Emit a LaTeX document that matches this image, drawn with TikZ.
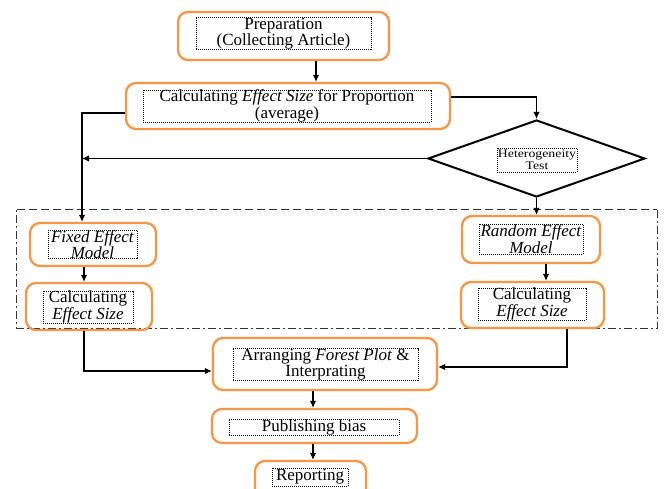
\documentclass[tikz,border=0pt]{standalone}
\usepackage{fontspec}
\setmainfont{Liberation Serif}
\usepackage{graphicx}
\usetikzlibrary{arrows.meta,shapes.geometric}
\definecolor{boxorange}{RGB}{247,150,70}
\tikzset{
  outerbox/.style={draw=boxorange, line width=2.3pt, rounded corners=10pt, inner sep=0pt},
  innerbox/.style={draw=black, line width=0.7pt, dash pattern=on 1pt off 1pt, inner sep=0pt, align=center,
     font=\fontsize{17}{14}\selectfont},
  arr/.style={draw=black, line width=1.2pt, -{Latex[length=7pt,width=6.5pt]}},
  plain/.style={draw=black, line width=1.2pt},
  frame/.style={draw=black!80, line width=1.1pt}
}
\begin{document}
\begin{tikzpicture}[x=1pt,y=-1pt]
\useasboundingbox (0,0) rectangle (665,489);
\clip (0,0) rectangle (665,489);
\fill[white] (0,0) rectangle (665,489);

% group frame
\node[minimum width=640, minimum height=118, inner sep=0pt] (grp) at (337,269) {};
\draw[frame, dash pattern=on 8pt off 4pt] (grp.north west) -- (grp.north east);
\draw[frame, dash pattern=on 8pt off 3pt on 2pt off 3pt] (grp.north east) -- (grp.south east) -- (grp.south west) -- (grp.north west);

% boxes
\node[outerbox, minimum width=211, minimum height=48] (prep) at (283.5,36) {};
\node[innerbox, minimum width=175, minimum height=27] (prepin) at (283.5,33.5) {Preparation\\(Collecting Article)};

\node[outerbox, minimum width=324, minimum height=46] (calc) at (288,106) {};
\node[innerbox, minimum width=288, minimum height=28] (calcin) at (287,106) {Calculating \textit{Effect Size} for Proportion\\(average)};

\node[draw=black, line width=2pt, shape=diamond, inner sep=0pt, minimum width=217, minimum height=77] (het) at (536.5,158.5) {};
\node[innerbox, minimum width=80, minimum height=24, font=\fontsize{11.5}{11.5}\selectfont] (hetin) at (537,160)
  {\scalebox{1.2}[1]{Heterogeneity}\\\scalebox{1.2}[1]{Test}};

\node[outerbox, minimum width=126, minimum height=43] (fixed) at (93,244.5) {};
\node[innerbox, minimum width=89, minimum height=25] (fixedin) at (92.5,244.5) {\textit{Fixed Effect}\\\textit{Model}};

\node[outerbox, minimum width=126, minimum height=47] (calcL) at (89,306.5) {};
\node[innerbox, minimum width=90, minimum height=30] (calcLin) at (88,307) {Calculating\\\textit{Effect Size}};

\node[outerbox, minimum width=138, minimum height=47] (random) at (531,239.5) {};
\node[innerbox, minimum width=104, minimum height=30] (randomin) at (531,239) {\textit{Random Effect}\\\textit{Model}};

\node[outerbox, minimum width=143, minimum height=46] (calcR) at (532.5,305) {};
\node[innerbox, minimum width=108, minimum height=28] (calcRin) at (532,304) {Calculating\\\textit{Effect Size}};

\node[outerbox, minimum width=224, minimum height=52] (arrange) at (325,364) {};
\node[innerbox, minimum width=185, minimum height=31] (arrangein) at (325.5,364.5) {Arranging \textit{Forest Plot} \&\\Interprating};

\node[outerbox, minimum width=205, minimum height=34] (pub) at (314.5,426) {};
\node[innerbox, minimum width=170, minimum height=15] (pubin) at (314,427.5) {Publishing bias};

\node[outerbox, minimum width=111, minimum height=40] (report) at (310.5,481) {};
\node[innerbox, minimum width=76, minimum height=18] (reportin) at (310,477) {Reporting};

% connectors
\coordinate (fixtop) at ([xshift=-11pt]fixed.north);
\draw[arr] ([xshift=32.5pt]prep.south) -- ([xshift=28pt]calc.north);
\draw[arr] ([yshift=9pt]calc.east) -| (het.north);
\draw[arr] ([yshift=-7pt]calc.west) -| (fixtop);
\draw[arr] (het.west) -- (het.west -| fixtop);
\draw[arr] (het.south) -- (het.south |- random.north);
\draw[arr] ([xshift=-9pt]fixed.south) -- ([xshift=-9pt]fixed.south |- calcL.north);
\draw[arr] ([xshift=15pt]random.south) -- ([xshift=15pt]random.south |- calcR.north);
\draw[arr] ([xshift=-5pt]calcL.south) |- ([yshift=-7pt]arrange.west);
\draw[arr] ([xshift=34.5pt]calcR.south) |- ([yshift=-3pt]arrange.east);
\draw[arr] ([xshift=-12pt]arrange.south) -- ([xshift=-12pt]arrange.south |- pub.north);
\draw[arr] ([xshift=-1.5pt]pub.south) -- ([xshift=-1.5pt]pub.south |- report.north);
\end{tikzpicture}
\end{document}
